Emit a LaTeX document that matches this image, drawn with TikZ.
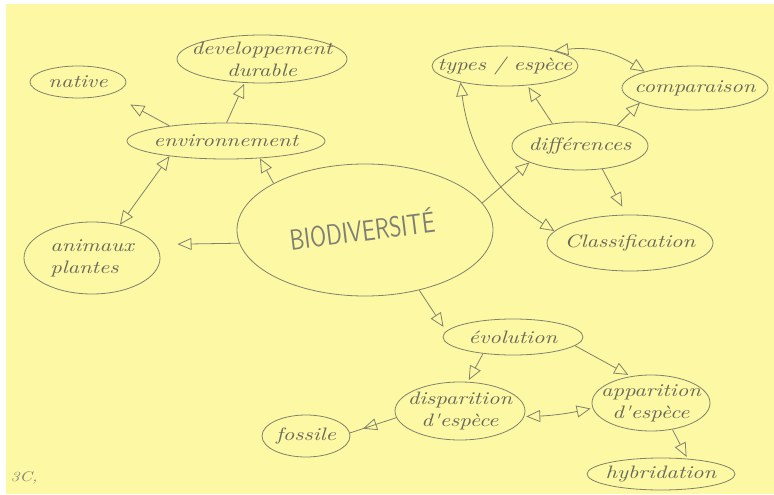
\documentclass[tikz,border=0pt]{standalone}
\usepackage{fontspec}
\usetikzlibrary{shapes.geometric,arrows.meta,decorations.markings}
\newfontfamily\hand{lmroman10-italic.otf}[FakeStretch=1.25]
\definecolor{paper}{RGB}{252,248,164}
\definecolor{pencil}{RGB}{130,129,108}
\definecolor{ink}{RGB}{105,104,90}
\tikzset{
  x=1pt,y=-1pt,
  bub/.style={ellipse,draw=pencil,line width=0.8pt,inner sep=0pt},
  every label/.style={font=\hand\fontsize{18}{22}\selectfont,text=ink,align=center},
  arr/.style={draw=pencil,line width=0.8pt,-{Triangle[open,length=14pt,width=12pt]}},
  darr/.style={draw=pencil,line width=0.8pt,{Triangle[open,length=14pt,width=12pt]}-{Triangle[open,length=14pt,width=12pt]}}
}
\begin{document}
\begin{tikzpicture}
\useasboundingbox (0,0) rectangle (774,495);
\fill[white] (0,0) rectangle (774,495);
\fill[paper] (6,4) rectangle (774,494);

\node[bub,minimum width=96,minimum height=32,label={center:native}] (native) at (78,82) {};
\node[bub,minimum width=170,minimum height=48,label={center:developpement\\durable}] (dev) at (262,59) {};
\node[bub,minimum width=198,minimum height=36,label={center:environnement}] (env) at (226,141) {};
\node[bub,minimum width=136,minimum height=72,label={[align=left]center:animaux\\plantes}] (anim) at (92,258) {};
\node[bub,minimum width=256,minimum height=132] (bio) at (365,230) {};
\node[rotate=7,text=ink!85,font=\sffamily\fontsize{29}{29}\selectfont] (biotext) at (362,229) {\scalebox{0.8}[1]{BIODIVERSITÉ}};
\node[bub,minimum width=146,minimum height=40,label={center:types / espèce}] (types) at (505,66) {};
\node[bub,minimum width=146,minimum height=44,label={center:comparaison}] (comp) at (695,88) {};
\node[bub,minimum width=136,minimum height=48,label={center:différences}] (diff) at (580,146) {};
\node[bub,minimum width=166,minimum height=56,label={center:Classification}] (class) at (630,243) {};
\node[bub,minimum width=140,minimum height=36,label={center:évolution}] (evo) at (513,337) {};
\node[bub,minimum width=130,minimum height=58,label={center:disparition\\d'espèce}] (disp) at (460,411) {};
\node[bub,minimum width=118,minimum height=56,label={center:apparition\\d'espèce}] (app) at (651,403) {};
\node[bub,minimum width=148,minimum height=32,label={center:hybridation}] (hyb) at (661,474) {};
\node[bub,minimum width=88,minimum height=42,label={center:fossile}] (foss) at (306,436) {};
\node[text=ink!80,font=\hand\fontsize{14}{14}\selectfont] (tag) at (24,478) {3C,};

\draw[arr,shorten >=22pt] (env.165) -- (native.-20);
\draw[arr,shorten >=1pt] (env.88) -- (dev.-126);
\draw[arr] (bio.153) -- (env.-27);
\draw[darr] (env.195) -- (anim.50);
\draw[arr,shorten >=22pt] (bio.186) -- (anim.12);
\draw[arr] (bio.13) -- (diff.198);
\draw[arr,shorten >=2pt] (diff.141) -- (types.-41);
\draw[arr] (diff.29) -- (comp.195);
\draw[arr,shorten >=9pt] (diff.-46) -- (class.97);
\draw[darr] (types.17) to[bend left=20] (comp.162);
\draw[darr] (types.-160) to[bend right=25] (class.171);
\draw[arr,shorten >=5pt] (bio.-48) -- (evo.175);
\draw[arr,shorten >=2pt] (evo.-151) -- (disp.75);
\draw[arr,shorten >=3pt] (evo.-8) -- (app.127);
\draw[darr,shorten <=2pt,shorten >=2pt] (disp.-5) to[bend right=5] (app.185);
\draw[arr,shorten >=2pt] (app.-51) -- (hyb.30);
\draw[draw=pencil,line width=0.8pt,postaction={decorate},
  decoration={markings,mark=at position 0.72 with {\arrow[draw=pencil,line width=0.8pt]{Triangle[open,length=14pt,width=12pt]}}}]
  (disp.186) -- (foss.4);
\end{tikzpicture}
\end{document}
